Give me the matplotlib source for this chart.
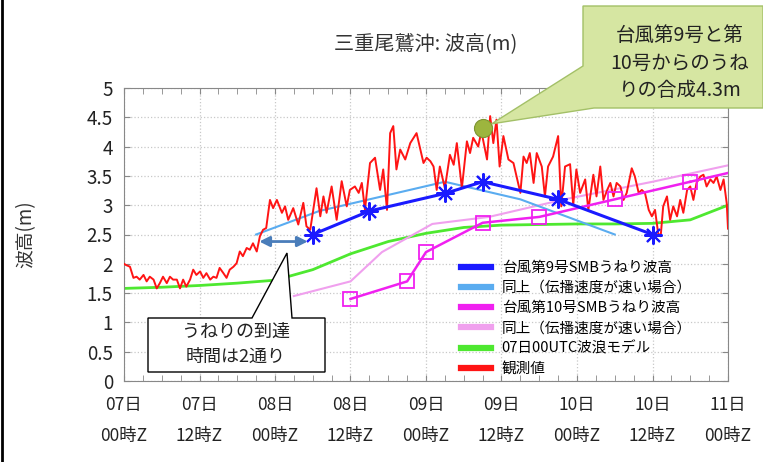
import matplotlib
matplotlib.use('Agg')
import matplotlib.pyplot as plt
from matplotlib.lines import Line2D
from matplotlib.patches import Polygon
from matplotlib.ticker import MultipleLocator

plt.rcParams['font.family'] = ['Noto Sans CJK JP', 'DejaVu Sans']

# hours since 07日00時Z
xtick_hours = [0, 12, 24, 36, 48, 60, 72, 84, 96]
xtick_labels = ['07日\n00時Z', '07日\n12時Z', '08日\n00時Z', '08日\n12時Z', '09日\n00時Z',
                '09日\n12時Z', '10日\n00時Z', '10日\n12時Z', '11日\n00時Z']
ytick_vals = [0, 0.5, 1, 1.5, 2, 2.5, 3, 3.5, 4, 4.5, 5]
ytick_labels = ['0', '0.5', '1', '1.5', '2', '2.5', '3', '3.5', '4', '4.5', '5']

# typhoon 9 SMB swell
t9_hours = [30, 39, 51, 57, 69, 84]
t9_vals = [2.5, 2.9, 3.2, 3.4, 3.1, 2.5]
t9f_hours = [21, 31, 43, 51, 63, 78]
t9f_vals = [2.5, 2.9, 3.2, 3.4, 3.1, 2.5]

# typhoon 10 SMB swell
t10_hours = [36, 45, 48, 57, 66, 78, 90]
t10_vals = [1.4, 1.7, 2.2, 2.7, 2.8, 3.1, 3.4]
t10_tail_hours = [90, 96]
t10_tail_vals = [3.4, 3.55]
t10f_hours = [27, 36, 41, 49, 58, 70, 84, 96]
t10f_vals = [1.45, 1.7, 2.2, 2.68, 2.8, 3.1, 3.4, 3.68]

# wave model 07日00UTC
model_hours = [0, 6, 12, 18, 24, 30, 36, 42, 48, 54, 60, 66, 72, 78, 84, 90, 96]
model_vals = [1.58, 1.6, 1.63, 1.67, 1.72, 1.9, 2.17, 2.38, 2.52, 2.62, 2.66, 2.67,
              2.68, 2.68, 2.69, 2.75, 3.0]

# observations
obs_hours = [0.0, 0.3, 0.95, 1.5, 2.0, 2.5, 3.1, 3.6, 4.1, 4.7, 5.2, 5.7, 6.2, 6.8, 7.3,
             7.8, 8.4, 8.9, 9.4, 9.9, 10.5, 11.0, 11.5, 12.1, 12.6, 13.1, 13.7, 14.2,
             14.7, 15.2, 15.8, 16.3, 16.8, 17.4, 17.9, 18.4, 18.9, 19.5, 20.0, 20.5,
             21.1, 21.6, 22.1, 22.6, 23.2, 23.7, 24.3, 25.1, 25.6, 26.1, 26.9, 27.7,
             28.5, 29.0, 29.6, 30.6, 31.2, 31.7, 32.2, 33.0, 33.8, 34.6, 35.4, 35.9,
             36.7, 37.3, 37.8, 38.3, 39.1, 39.9, 40.7, 41.2, 41.8, 42.3, 42.8, 43.3,
             43.9, 44.7, 45.5, 46.5, 47.1, 47.6, 48.1, 48.7, 49.2, 49.7, 50.2, 51.0,
             51.8, 52.4, 52.9, 53.7, 54.5, 55.0, 55.5, 56.3, 56.8, 57.7, 58.2, 58.7,
             59.2, 59.7, 60.3, 61.1, 61.9, 62.4, 63.0, 63.5, 64.0, 64.5, 65.1, 65.6,
             66.4, 66.9, 67.4, 68.2, 69.0, 69.5, 70.1, 70.9, 71.4, 71.9, 72.5, 73.3,
             73.8, 74.6, 75.1, 75.7, 76.2, 76.8, 77.3, 77.8, 78.3, 78.9, 79.4, 79.9,
             80.7, 81.2, 81.8, 82.3, 82.8, 83.4, 83.9, 84.4, 84.9, 85.3, 85.7, 86.3,
             86.8, 87.3, 87.9, 88.4, 88.9, 89.5, 90.0, 90.5, 91.0, 91.6, 92.1, 92.6,
             93.2, 93.7, 94.2, 94.8, 95.3, 95.8, 96.0]
obs_vals = [2.00, 1.98, 1.95, 1.76, 1.78, 1.73, 1.81, 1.70, 1.78, 1.73, 1.58, 1.67, 1.78,
            1.67, 1.78, 1.73, 1.73, 1.58, 1.73, 1.61, 1.73, 1.90, 1.81, 1.87, 1.76, 1.84,
            1.73, 1.78, 1.76, 1.93, 1.84, 1.76, 1.90, 1.95, 2.01, 2.21, 2.13, 2.27, 2.24,
            2.35, 2.21, 2.47, 2.58, 2.61, 3.09, 2.95, 3.09, 2.87, 2.98, 2.75, 2.95, 2.67,
            3.04, 2.64, 2.58, 3.29, 2.81, 3.15, 2.87, 3.32, 2.75, 3.41, 2.98, 3.26, 3.32,
            3.21, 3.38, 2.92, 3.72, 3.81, 3.26, 3.61, 2.92, 4.23, 4.35, 3.61, 3.95, 3.78,
            4.06, 4.23, 3.95, 3.72, 3.81, 3.75, 3.66, 3.26, 3.66, 3.29, 3.86, 3.69, 4.06,
            3.29, 4.09, 3.89, 4.15, 4.00, 4.26, 3.78, 4.52, 4.06, 4.46, 3.66, 4.18, 3.78,
            3.72, 3.49, 3.21, 3.83, 3.72, 3.89, 3.38, 3.89, 3.66, 3.15, 3.66, 3.83, 4.18,
            2.98, 3.66, 3.70, 3.00, 3.61, 3.21, 3.44, 2.92, 3.52, 3.15, 3.66, 3.09, 3.26,
            3.38, 3.15, 3.38, 3.32, 3.09, 3.21, 3.63, 3.49, 3.21, 3.26, 3.21, 2.92, 2.81,
            2.92, 2.52, 2.47, 2.98, 3.15, 2.75, 2.98, 2.81, 3.09, 2.87, 3.26, 3.32, 3.09,
            3.38, 3.49, 3.52, 3.32, 3.44, 3.38, 3.49, 3.26, 3.44, 3.03, 2.60]

peak_hour, peak_val = 57, 4.32
arrow_from, arrow_to, arrow_y = 21.5, 29.2, 2.38

legend_labels = ['台風第9号SMBうねり波高', '同上（伝播速度が速い場合）', '台風第10号SMBうねり波高',
                 '同上（伝播速度が速い場合）', '07日00UTC波浪モデル', '観測値']

c_blue = '#1a1aff'
c_lblue = '#5aacf0'
c_mag = '#f020f0'
c_pink = '#f0a0ee'
c_green = '#4ee830'
c_red = '#ff1414'

fig = plt.figure(figsize=(7.63, 4.62), dpi=100)
ax = fig.add_axes([124/763, 81/462, 604/763, 293/462])

ax.plot(model_hours, model_vals, color=c_green, lw=2, zorder=2)
ax.plot(t10f_hours, t10f_vals, color=c_pink, lw=1.5, zorder=2)
ax.plot(t9f_hours, t9f_vals, color=c_lblue, lw=1.5, zorder=2)
ax.plot(obs_hours, obs_vals, color=c_red, lw=1.4, zorder=3)
ax.plot(t10_tail_hours, t10_tail_vals, color=c_mag, lw=1.8, zorder=4)
ax.plot(t10_hours, t10_vals, color=c_mag, lw=1.8, marker='s', ms=10, mfc='none',
        mec=c_mag, mew=1.3, zorder=4)
ax.plot(t9_hours, t9_vals, color=c_blue, lw=2.2, marker=(8, 2, 0), ms=13, mew=1.5,
        mec=c_blue, zorder=5)
ax.plot(peak_hour, peak_val, 'o', ms=13, mfc='#9db53e', mec='#7d9431', mew=0.8, zorder=6)
ax.annotate('', xy=(arrow_from, arrow_y), xytext=(arrow_to, arrow_y),
            arrowprops=dict(arrowstyle='<|-|>', color='#4a7dba', lw=2,
                            mutation_scale=15, shrinkA=0, shrinkB=0), zorder=6)

ax.set_xlim(0, 96)
ax.set_ylim(0, 5)
ax.set_xticks(xtick_hours)
ax.set_xticklabels(xtick_labels, fontsize=12.5, linespacing=1.9)
ax.xaxis.set_minor_locator(MultipleLocator(3))
ax.set_yticks(ytick_vals)
ax.set_yticklabels(ytick_labels, fontsize=13.5)
ax.grid(True, which='major', color='#c8c8c8', ls=':', lw=0.9)
ax.tick_params(which='both', direction='in', top=True, right=True, length=4,
               color='#888888', labelcolor='#222222')
ax.tick_params(axis='x', which='major', pad=11)
ax.tick_params(axis='y', which='major', pad=8)
for s in ax.spines.values():
    s.set_color('#888888')

ax.set_ylabel('波高(m)', fontsize=13.5, color='#333333')
ax.yaxis.set_label_coords(-0.145, 0.5)
fig.text(426/763, 1 - 45/462, '三重尾鷲沖: 波高(m)', ha='center', va='center',
         fontsize=14.5, color='#333333')

handles = [Line2D([], [], color=c, lw=4.5) for c in
           [c_blue, c_lblue, c_mag, c_pink, c_green, c_red]]
ax.legend(handles, legend_labels, loc='upper left', bbox_to_anchor=(455/763, 1 - 255/462),
          bbox_transform=fig.transFigure, frameon=False, fontsize=10.5,
          handlelength=2.1, handletextpad=0.7, labelspacing=0.42, borderaxespad=0)

# callouts drawn on an overlay in pixel units
ov = fig.add_axes([0, 0, 1, 1], zorder=10)
ov.set_xlim(0, 763)
ov.set_ylim(462, 0)
ov.axis('off')
ov.patch.set_alpha(0)

tip = ov.transData.inverted().transform(ax.transData.transform((peak_hour, peak_val)))
tip = (tip[0] + 9, tip[1] - 4)
green_box = [(583, 6), (763, 6), (763, 108), (594, 108), tip, (583, 66)]
ov.add_patch(Polygon(green_box, closed=True, fc='#d6e6a2', ec='#a3c067', lw=1))
ov.text(680, 35, '台風第9号と第', ha='center', va='center', fontsize=14, color='#222222')
ov.text(680, 63, '10号からのうね', ha='center', va='center', fontsize=14, color='#222222')
ov.text(680, 91, 'りの合成4.3m', ha='center', va='center', fontsize=14, color='#222222')

white_box = [(148, 318), (252, 318), (287, 253), (292, 318), (325, 318), (325, 372), (148, 372)]
ov.add_patch(Polygon(white_box, closed=True, fc='white', ec='black', lw=1))
ov.text(236, 332, 'うねりの到達', ha='center', va='center', fontsize=13, color='#222222')
ov.text(236, 357, '時間は2通り', ha='center', va='center', fontsize=13, color='#222222')

ov.plot([2, 2], [0, 462], color='black', lw=2)

fig.savefig('out.png', dpi=100)
